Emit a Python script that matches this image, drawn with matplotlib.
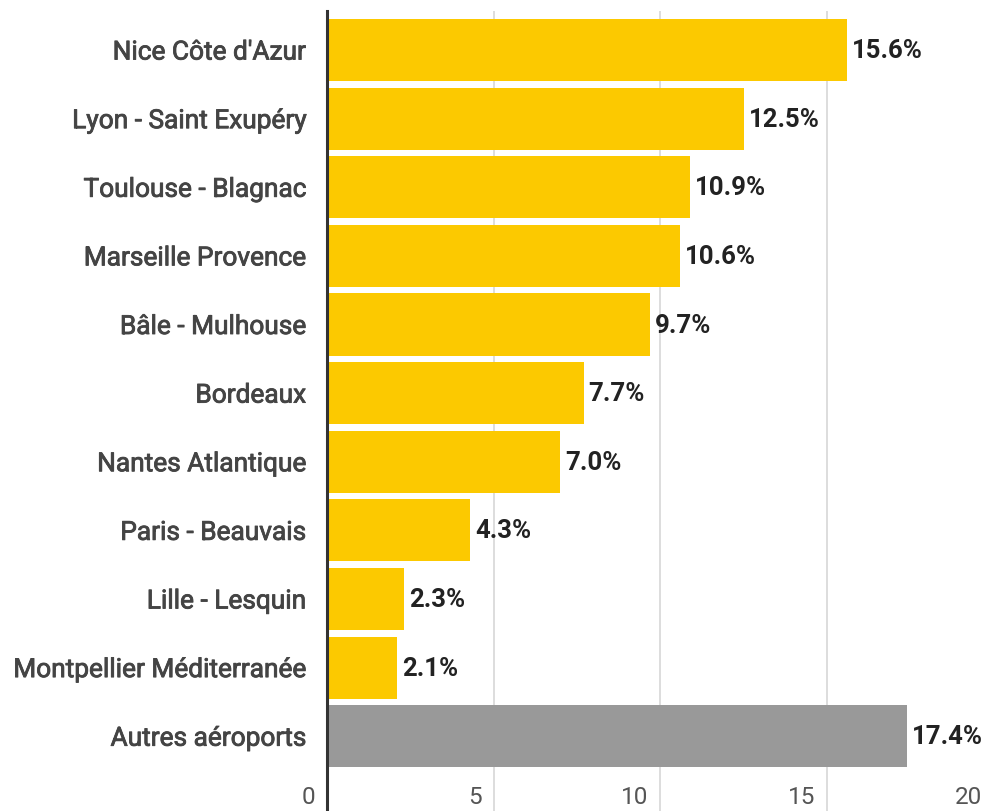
import matplotlib
matplotlib.use("Agg")
import matplotlib.pyplot as plt
import matplotlib.patheffects as pe
from matplotlib.transforms import ScaledTranslation

plt.rcParams['font.family'] = ['Roboto', 'DejaVu Sans']

categories = ["Nice Côte d'Azur", "Lyon - Saint Exupéry", "Toulouse - Blagnac",
              "Marseille Provence", "Bâle - Mulhouse", "Bordeaux", "Nantes Atlantique",
              "Paris - Beauvais", "Lille - Lesquin", "Montpellier Méditerranée",
              "Autres aéroports"]
values = [15.6, 12.5, 10.9, 10.6, 9.7, 7.7, 7.0, 4.3, 2.3, 2.1, 17.4]
xticks = [0, 5, 10, 15, 20]
other_label = "Autres aéroports"

W, H = 988, 812
fig = plt.figure(figsize=(W / 100, H / 100), dpi=100)
ax = fig.add_axes([327 / W, 0, 666.7 / W, 800 / H])

colors = ['#999999' if c == other_label else '#FCC900' for c in categories]
ypos = list(range(len(categories)))
ax.barh(ypos, values, height=0.904, color=colors, zorder=2)

ax.set_xlim(0, 20)
ax.set_ylim(11.09, -0.569)

ax.set_axisbelow(True)
ax.xaxis.grid(True, color='#dadada', linewidth=1.3)
ax.yaxis.grid(False)
for s in ['top', 'right', 'bottom']:
    ax.spines[s].set_visible(False)
ax.spines['left'].set_color('#333333')
ax.spines['left'].set_linewidth(2.2)
ax.spines['left'].set_zorder(3)

ax.set_yticks(ypos)
ax.set_yticklabels(categories, fontsize=18.9, color='#444444')
ax.tick_params(axis='y', length=0, pad=15)
for lab in ax.get_yticklabels():
    lab.set_path_effects([pe.withStroke(linewidth=0.6, foreground='#444444')])

ax.set_xticks(xticks)
ax.set_xticklabels([str(t) for t in xticks], fontsize=17.5, color='#555555')
ax.tick_params(axis='x', length=0, pad=0)
off = ScaledTranslation(-0.12, 0.14, fig.dpi_scale_trans)
for lab in ax.get_xticklabels():
    lab.set_ha('right')
    lab.set_va('center')
    lab.set_transform(lab.get_transform() + off)

for i, v in enumerate(values):
    ax.annotate(f"{v:.1f}%", xy=(v, i), xytext=(3.6, 0), textcoords='offset points',
                va='center', ha='left', fontsize=18.5, fontweight='bold', color='#222222')

fig.savefig('out.png', dpi=100)
